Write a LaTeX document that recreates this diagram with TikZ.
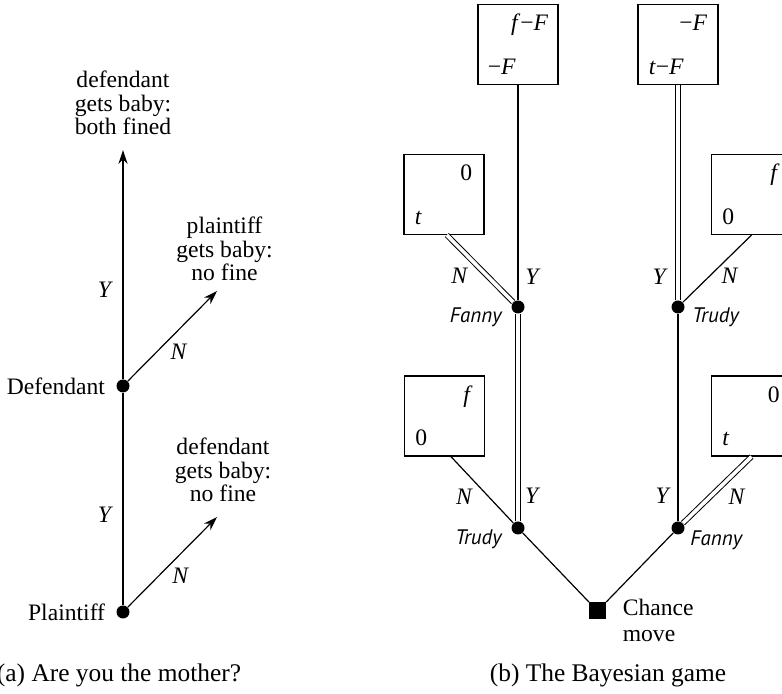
\documentclass[tikz,border=0pt]{standalone}
\usepackage{fontspec}
\setmainfont{Liberation Serif}
\newfontfamily\playerfont{PT Sans}
\usetikzlibrary{positioning, arrows.meta}

\begin{document}
\begin{tikzpicture}[
        x=1pt, y=1pt,
        every node/.style={font=\fontsize{11.8}{11.6}\selectfont, align=center},
        dot/.style={circle, fill=black, minimum size=6.5pt, inner sep=0pt},
        chance/.style={rectangle, fill=black, minimum size=8.5pt, inner sep=0pt},
        payoffbox/.style={rectangle, draw, line width=0.6pt, minimum size=40pt, inner sep=0pt},
        payoff/.style={inner sep=0pt},
        player/.style={inner sep=0pt, font=\playerfont\itshape\fontsize{10.5}{12}\selectfont},
        outcome/.style={inner sep=0pt},
        caption/.style={inner sep=0pt, anchor=base, font=\fontsize{12.7}{14}\selectfont},
        arrow/.style={-{Stealth[length=7pt, width=4.6pt]}, line width=0.6pt},
        line/.style={-, line width=0.6pt},
        dline/.style={-, line width=0.5pt, double, double distance=1.8pt}
    ]
    \clip (0,0) rectangle (391,347);
%
    % (a) Are you the mother?
    \node[dot, label={[label distance=2pt]left:Plaintiff}] (pl) at (61.5,41) {};
    \node[dot, label={[label distance=2pt]left:Defendant}] (de) at (61.5,154) {};
    \coordinate (topend) at (61.5,272);
    \coordinate[above right=47.5pt and 47pt of de.center] (nend1);
    \coordinate[above right=47.5pt and 47pt of pl.center] (nend2);
%
    % Issues
    \node[outcome, above=7.5pt of topend] (out1) {defendant\\gets baby:\\both fined};
    \node[outcome, above=5pt of nend1, xshift=3.75pt] (out2) {plaintiff\\gets baby:\\no fine};
    \node[outcome, above=7.5pt of nend2, xshift=3pt] (out3) {defendant\\gets baby:\\no fine};
%
    % Coups
    \draw[line] (pl) -- node[pos=0.425, left=1.3pt] {\textit{Y}} (de);
    \draw[arrow] (pl) -- node[pos=0.35, right=3pt] {\textit{N}} (nend2);
    \draw[arrow] (de) -- node[pos=0.39, left=1.3pt] {\textit{Y}} (topend);
    \draw[arrow] (de) -- node[pos=0.33, right=3pt] {\textit{N}} (nend1);
%
    \node[caption] (capa) at (59.5,6) {(a) Are you the mother?};
%
    % (b) The Bayesian game
    \node[chance] (ch) at (298.75,41.5) {};
    \node[below right=-1.5pt and 8pt of ch.north east, inner sep=0pt, align=left] (chlab) {Chance\\[1.4pt]move};
%
    % Joueurs
    \node[dot] (lT) at (259,83) {};
    \node[dot] (lF) at (339,83) {};
    \node[dot] (uF) at (259,193.5) {};
    \node[dot] (uT) at (339,193.5) {};
    \node[player, below left=0.5pt and 8pt of lT.center] (lTlab) {Trudy};
    \node[player, below right=1pt and 6pt of lF.center] (lFlab) {Fanny};
    \node[player, below left=0pt and 8pt of uF.center] (uFlab) {Fanny};
    \node[player, below right=0pt and 7pt of uT.center] (uTlab) {Trudy};
%
    % Gains
    \node[payoffbox] (bll) at (222.25,139) {};
    \node[payoffbox] (blr) at (375.75,139) {};
    \node[payoffbox] (bml) at (222,249.75) {};
    \node[payoffbox] (bmr) at (375.75,249.75) {};
    \node[payoffbox] (btl) at (259,324.75) {};
    \node[payoffbox] (btr) at (339,324.75) {};
%
    \node[payoff, anchor=base east] (pll1) at ([shift={(-6pt,-13.5pt)}]bll.north east) {\textit{f}};
    \node[payoff, anchor=base west] (pll2) at ([shift={(5.5pt,5.5pt)}]bll.south west) {0};
    \node[payoff, anchor=base east] (plr1) at ([shift={(-6pt,-13.5pt)}]blr.north east) {0};
    \node[payoff, anchor=base west] (plr2) at ([shift={(5.5pt,5.5pt)}]blr.south west) {\textit{t}};
    \node[payoff, anchor=base east] (pml1) at ([shift={(-6pt,-13.5pt)}]bml.north east) {0};
    \node[payoff, anchor=base west] (pml2) at ([shift={(5.5pt,5.5pt)}]bml.south west) {\textit{t}};
    \node[payoff, anchor=base east] (pmr1) at ([shift={(-6pt,-13.5pt)}]bmr.north east) {\textit{f}};
    \node[payoff, anchor=base west] (pmr2) at ([shift={(5.5pt,5.5pt)}]bmr.south west) {0};
    \node[payoff, anchor=base east] (ptl1) at ([shift={(-5pt,-13.5pt)}]btl.north east) {\textit{f}−\textit{F}};
    \node[payoff, anchor=base west] (ptl2) at ([shift={(5pt,5.5pt)}]btl.south west) {−\textit{F}};
    \node[payoff, anchor=base east] (ptr1) at ([shift={(-5.5pt,-13.5pt)}]btr.north east) {−\textit{F}};
    \node[payoff, anchor=base west] (ptr2) at ([shift={(5.5pt,5.5pt)}]btr.south west) {\textit{t}−\textit{F}};
%
    % Coups
    \draw[line] (ch) -- (lT);
    \draw[line] (ch) -- (lF);
    \draw[dline] (lT) -- node[pos=0.12, right] {\textit{Y}} (uF);
    \draw[line] (lT) -- node[pos=0.4, left=4pt] {\textit{N}} (bll.-81);
    \draw[line] (lF) -- node[pos=0.12, left] {\textit{Y}} (uT);
    \draw[dline] (lF) -- node[pos=0.4, right=5.5pt] {\textit{N}} (blr.south);
    \draw[line] (uF) -- node[pos=0.11, right] {\textit{Y}} (btl);
    \draw[dline] (uF) -- node[pos=0.39, left=6pt] {\textit{N}} (bml.-86);
    \draw[dline] (uT) -- node[pos=0.11, left=1.5pt] {\textit{Y}} (btr);
    \draw[line] (uT) -- node[pos=0.4, right=2pt] {\textit{N}} (bmr.south);
%
    \node[caption] (capb) at (304,6) {(b) The Bayesian game};
%
\end{tikzpicture}
\end{document}
